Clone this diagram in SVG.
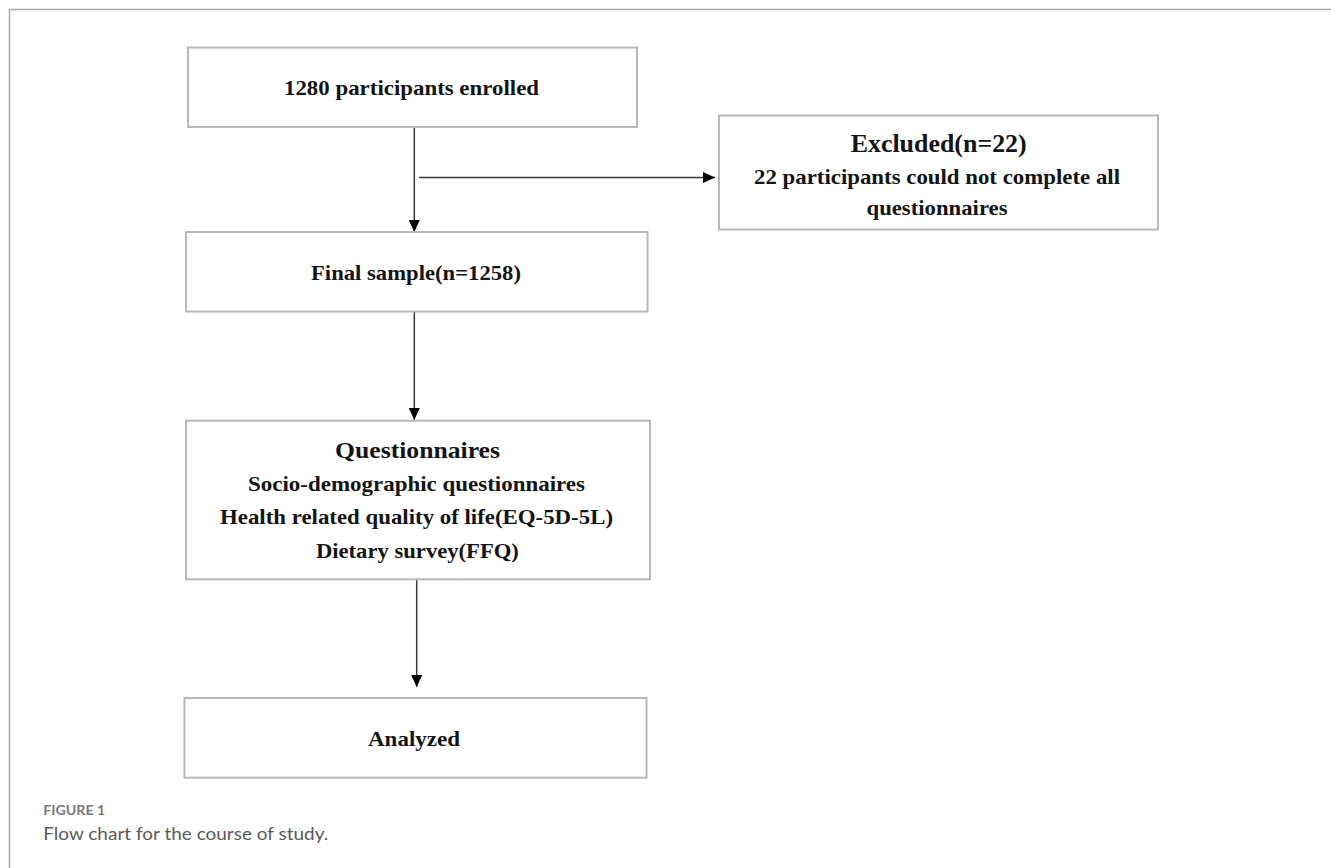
<svg xmlns="http://www.w3.org/2000/svg" width="1331" height="868" viewBox="0 0 1331 868">
<style>
.box{fill:#fff;stroke:#b8b8b8;stroke-width:2}
.t{font-family:"Liberation Serif","Times New Roman",serif;font-weight:bold;fill:#141414;text-anchor:middle}
.c{stroke:#3a3a3a;stroke-width:1.5;fill:none}
.frame{stroke:#a8a8a8;stroke-width:1.5;fill:none}
.cap{font-family:Lato,"Open Sans",sans-serif}
</style>
<defs>
<marker id="ah" viewBox="0 0 12 11" refX="12" refY="5.5" markerWidth="12" markerHeight="11" markerUnits="userSpaceOnUse" orient="auto">
<path d="M0,0 L12,5.5 L0,11 Z" fill="#000"/>
</marker>
</defs>
<rect width="1331" height="868" fill="#fff"/>
<path class="frame" d="M9.5,868 V9.5 H1331"/>
<g id="connectors">
<line class="c" x1="414.3" y1="127" x2="414.3" y2="232" marker-end="url(#ah)"/>
<line class="c" x1="419" y1="177.5" x2="715" y2="177.5" marker-end="url(#ah)"/>
<line class="c" x1="414.3" y1="312" x2="414.3" y2="420" marker-end="url(#ah)"/>
<line class="c" x1="416.7" y1="579.5" x2="416.7" y2="687" marker-end="url(#ah)"/>
</g>
<g id="enrolled">
<rect class="box" x="188" y="47.5" width="449" height="79.5"/>
<text class="t" x="411.5" y="95" font-size="22" textLength="255" lengthAdjust="spacingAndGlyphs">1280 participants enrolled</text>
</g>
<g id="excluded">
<rect class="box" x="719" y="115.5" width="439" height="114"/>
<text class="t" x="938.7" y="152.3" font-size="25" textLength="176" lengthAdjust="spacingAndGlyphs">Excluded(n=22)</text>
<text class="t" x="937" y="184" font-size="21" textLength="366" lengthAdjust="spacingAndGlyphs">22 participants could not complete all</text>
<text class="t" x="937" y="215" font-size="21" textLength="141" lengthAdjust="spacingAndGlyphs">questionnaires</text>
</g>
<g id="final">
<rect class="box" x="186" y="232" width="461.5" height="79.5"/>
<text class="t" x="416" y="280" font-size="22" textLength="210" lengthAdjust="spacingAndGlyphs">Final sample(n=1258)</text>
</g>
<g id="questionnaires">
<rect class="box" x="186" y="420.7" width="464" height="158.6"/>
<text class="t" x="417.5" y="457.5" font-size="23" textLength="165" lengthAdjust="spacingAndGlyphs">Questionnaires</text>
<text class="t" x="416.5" y="490.7" font-size="21" textLength="337" lengthAdjust="spacingAndGlyphs">Socio-demographic questionnaires</text>
<text class="t" x="416.5" y="524" font-size="21" textLength="393" lengthAdjust="spacingAndGlyphs">Health related quality of life(EQ-5D-5L)</text>
<text class="t" x="417.4" y="557.5" font-size="21" textLength="203" lengthAdjust="spacingAndGlyphs">Dietary survey(FFQ)</text>
</g>
<g id="analyzed">
<rect class="box" x="184.5" y="698" width="462" height="79.7"/>
<text class="t" x="414" y="746" font-size="21" textLength="92" lengthAdjust="spacingAndGlyphs">Analyzed</text>
</g>
<text class="cap" x="43.3" y="815" font-size="12.5" font-weight="bold" fill="#7a7a7a" textLength="62" lengthAdjust="spacingAndGlyphs">FIGURE 1</text>
<text class="cap" x="43.3" y="840" font-size="18" fill="#5a5a5a" textLength="285" lengthAdjust="spacingAndGlyphs">Flow chart for the course of study.</text>
</svg>
